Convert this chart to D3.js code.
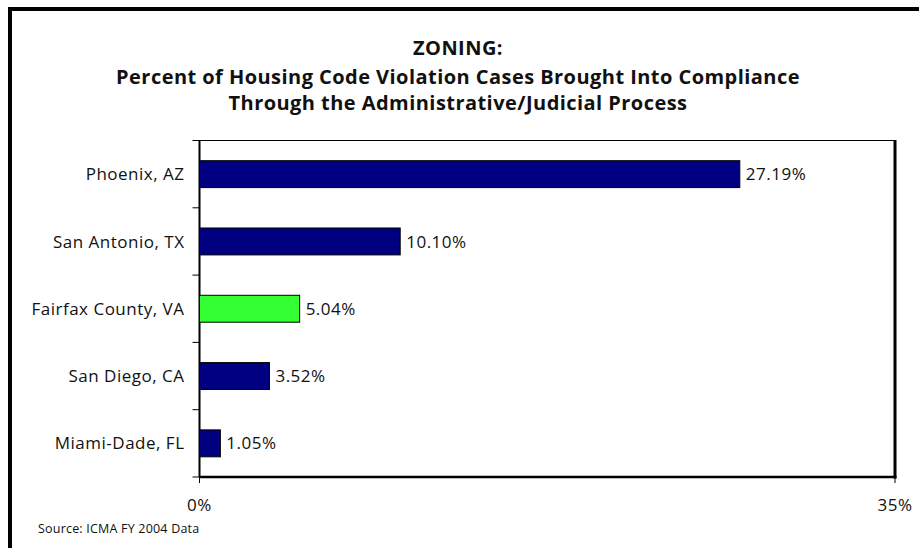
<!DOCTYPE html>
<html><head><meta charset="utf-8">
<script src="https://cdn.jsdelivr.net/npm/d3@7"></script>
<style>
body{margin:0;background:#fff;}
text{font-family:"Open Sans","Noto Sans",sans-serif;fill:#111;}
</style></head>
<body><svg id="c" width="919" height="548"></svg>
<script>
const categories = ["Phoenix, AZ","San Antonio, TX","Fairfax County, VA","San Diego, CA","Miami-Dade, FL"];
const values = [27.19, 10.10, 5.04, 3.52, 1.05];
const valueLabels = ["27.19%","10.10%","5.04%","3.52%","1.05%"];
const highlight = "Fairfax County, VA";
const xTicks = [0, 35];
const titleLines = ["ZONING:","Percent of Housing Code Violation Cases Brought Into Compliance","Through the Administrative/Judicial Process"];
const source = "Source: ICMA FY 2004 Data";

const svg = d3.select("#c");
// outer frame
svg.append("rect").attr("x",10).attr("y",9).attr("width",930).attr("height",560)
  .attr("fill","none").attr("stroke","#000").attr("stroke-width",4);

const L=199.5, R=895, T=140.5, B=477;
const x = d3.scaleLinear().domain([0,35]).range([L,R]);
const y = d3.scaleBand().domain(categories).range([T,B]).paddingInner(0.6).paddingOuter(0.3);

// plot frame
svg.append("rect").attr("x",L).attr("y",T).attr("width",R-L).attr("height",B-T)
  .attr("fill","#fff").attr("stroke","#000").attr("stroke-width",1);
svg.append("line").attr("x1",R).attr("x2",R).attr("y1",T-0.5).attr("y2",B+1.5).attr("stroke","#000").attr("stroke-width",3);
svg.append("line").attr("x1",L).attr("x2",R+1.5).attr("y1",B).attr("y2",B).attr("stroke","#000").attr("stroke-width",2.5);

// title
svg.append("g").selectAll("text").data(titleLines).join("text")
  .attr("x",458).attr("y",(d,i)=>[55,84,110][i]).attr("text-anchor","middle")
  .attr("font-weight","bold").attr("font-size",20).attr("letter-spacing",0.45).text(d=>d);

// y axis ticks at band boundaries
const bounds = d3.range(categories.length+1).map(i=>T + i*(B-T)/categories.length);
svg.append("g").selectAll("line").data(bounds).join("line")
  .attr("x1",L-7).attr("x2",L).attr("y1",d=>d).attr("y2",d=>d).attr("stroke","#000");
svg.append("line").attr("x1",L).attr("x2",L).attr("y1",T).attr("y2",B).attr("stroke","#000").attr("stroke-width",2);

// category labels
svg.append("g").selectAll("text").data(categories).join("text")
  .attr("x",L-15).attr("y",d=>y(d)+y.bandwidth()/2).attr("dy","0.36em")
  .attr("text-anchor","end").attr("font-size",17).attr("letter-spacing",0.5).text(d=>d);

// bars
svg.append("g").selectAll("rect").data(categories).join("rect")
  .attr("x",x(0)).attr("y",d=>y(d)).attr("height",y.bandwidth())
  .attr("width",(d,i)=>x(values[i])-x(0))
  .attr("fill",d=>d===highlight?"#33ff33":"#000080").attr("stroke","#000").attr("stroke-width",1);

// value labels
svg.append("g").selectAll("text").data(categories).join("text")
  .attr("x",(d,i)=>x(values[i])+6).attr("y",d=>y(d)+y.bandwidth()/2).attr("dy","0.36em")
  .attr("font-size",17).attr("letter-spacing",0.5).text((d,i)=>valueLabels[i]);

// x axis ticks
svg.append("g").selectAll("line").data(xTicks).join("line")
  .attr("x1",d=>x(d)).attr("x2",d=>x(d)).attr("y1",B).attr("y2",B+6).attr("stroke","#000");
svg.append("g").selectAll("text").data(xTicks).join("text")
  .attr("x",d=>x(d)).attr("y",511).attr("text-anchor","middle").attr("font-size",17).attr("letter-spacing",0.5)
  .text(d=>d+"%");

svg.append("text").attr("x",38).attr("y",533).attr("font-size",12.5).attr("letter-spacing",0.2).text(source);
</script></body></html>
